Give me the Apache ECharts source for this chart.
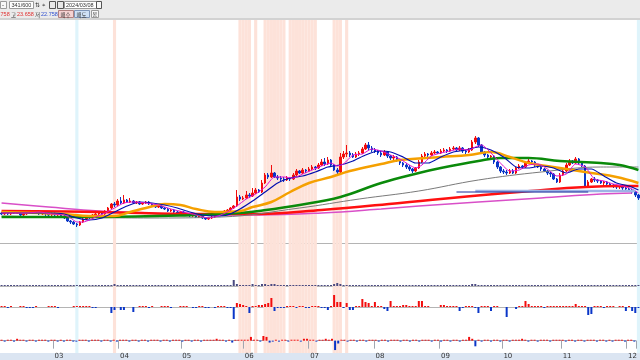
<!DOCTYPE html>
<html><head><meta charset="utf-8">
<script src="https://cdn.jsdelivr.net/npm/echarts@6/dist/echarts.min.js"></script>
<style>html,body{margin:0;padding:0;background:#fff}#c{width:640px;height:360px}</style>
</head><body><div id="c"></div>
<script>
// ---- categories (trading days grouped by month) ----
const monthLabels = ['02','03','04','05','06','07','08','09','10','11','12'];
const monthDays   = [17,21,20,20,21,21,21,20,19,21,3];

// ---- candles [open, close, low, high] ----
const ohlc = [
[130,129,128,131],[129,130,128,131],[130,129,128,130],[129,131,128,132],[131,130,129,132],[130,130,129,131],[130,128,127,131],[128,129,127,130],[129,131,128,132],[131,130,129,132],
[130,132,129,133],[132,131,130,133],[131,129,128,132],[129,130,128,131],[130,129,127,131],[129,128,127,130],[128,130,127,131],
[130,128,127,131],[128,129,127,130],[129,127,126,130],[127,125,124,128],[125,122,121,126],[122,121,119,123],[121,119,118,122],[119,118,116,120],[118,121,117,122],[121,124,120,125],
[124,126,123,127],[126,125,124,128],[125,128,124,129],[128,129,127,130],[129,130,128,131],[130,129,128,131],[129,132,128,133],[132,135,131,136],[135,139,134,140],[139,138,136,141],[138,142,137,144],
[142,140,139,146],[140,143,139,148],[143,141,140,144],[141,142,140,145],[142,140,139,143],[140,141,139,142],[141,139,138,142],[139,140,138,141],[140,141,139,142],[141,139,138,142],
[139,138,137,140],[138,136,135,139],[136,137,135,138],[137,135,134,138],[135,134,133,136],[134,132,131,135],[132,133,131,134],[133,131,130,134],[131,130,129,132],[130,131,129,132],
[131,129,128,132],[129,128,127,130],[128,127,126,129],[127,128,126,129],[128,126,125,129],[126,127,125,128],[127,125,124,128],[125,124,123,126],[124,125,123,126],[125,126,124,127],
[126,129,125,130],[129,131,128,132],[131,130,129,132],[130,132,129,133],[132,133,131,134],[133,135,132,136],[135,137,134,138],[137,146,136,153],[146,144,142,148],[144,145,143,147],
[145,148,144,152],[148,147,145,150],[147,150,146,155],[150,153,149,155],[153,151,150,154],[151,160,150,163],[160,168,159,170],[168,166,164,170],[166,170,165,178],[170,166,165,171],
[166,165,163,168],[165,164,162,167],[164,163,161,166],[163,165,162,167],[165,164,162,166],[164,168,163,170],[168,172,167,174],[172,170,169,173],[170,173,169,175],[173,172,170,174],[172,174,171,176],
[174,176,173,178],[176,175,173,177],[175,178,174,180],[178,181,177,184],[181,179,177,185],[179,183,178,186],[183,178,176,184],[178,173,172,179],[173,171,169,175],[171,186,170,190],
[186,189,184,192],[189,190,186,198],[190,188,186,192],[188,186,185,190],[186,189,185,191],[189,190,187,192],[190,194,189,196],[194,198,193,200],[198,195,193,201],[195,193,191,197],[193,192,190,195],
[192,190,188,193],[190,188,186,192],[188,191,187,193],[191,187,185,192],[187,185,183,188],[185,186,183,188],[186,183,181,187],[183,180,178,184],[180,178,176,181],[178,176,174,180],
[176,174,172,178],[174,172,170,175],[172,175,171,176],[175,181,174,183],[181,187,180,189],[187,189,186,191],[189,188,186,190],[188,190,187,192],[190,191,189,193],[191,190,189,192],[190,192,189,194],
[192,193,191,195],[193,192,190,194],[192,194,191,196],[194,195,193,197],[195,193,192,196],[193,195,192,197],[195,192,190,196],[192,191,189,193],[191,193,190,195],[193,201,192,203],
[201,205,199,207],[205,198,196,206],[198,191,190,199],[191,188,186,192],[188,186,184,189],[186,187,184,188],[187,181,179,188],[181,176,174,182],[176,172,170,177],[172,171,169,174],
[171,170,168,173],[170,172,169,174],[172,170,169,174],[170,175,169,176],[175,177,174,179],[177,176,174,178],[176,180,175,182],[180,182,179,184],[182,181,179,183],[181,178,176,182],
[178,176,175,179],[176,174,172,177],[174,172,171,175],[172,170,168,173],[170,169,166,171],[169,164,163,170],[164,161,160,165],[161,168,160,170],[168,172,167,173],
[172,178,171,180],[178,182,177,184],[182,180,179,183],[180,184,179,186],[184,180,178,185],[180,177,176,181],[177,157,155,178],[157,161,156,163],[161,164,160,165],[164,163,161,166],
[163,162,160,164],[162,160,159,163],[160,161,158,162],[161,159,157,162],[159,158,156,160],[158,157,155,159],[157,156,154,158],[156,157,154,158],[157,155,153,158],[155,154,152,156],[154,153,151,155],
[153,151,149,154],[151,148,146,152],[148,145,143,149]
];

// ---- moving-average lines: [dayIndex, price] ----
const ma5 = [[0,130],[4,130],[8,130],[12,131],[16,129],[20,128],[22,125],[24,121],[26,121],[28,123],[30,126],[33,130],[36,135],[39,140],[42,141],[46,140],[50,138],[54,134],[58,131],[62,128],[66,125],[69,127],[72,131],[75,137],[78,144],[81,149],[84,156],[87,166],[90,166],[93,165],[96,169],[99,173],[102,177],[105,180],[107,177],[109,179],[112,188],[115,189],[118,194],[121,192],[124,188],[127,184],[130,178],[132,175],[134,178],[137,187],[140,190],[143,192],[146,194],[149,193],[151,196],[153,198],[156,190],[159,180],[162,172],[165,173],[168,178],[171,179],[174,174],[177,167],[180,169],[183,179],[186,176],[189,164],[192,162],[195,159],[198,157],[201,154],[203,150]];
const ma10 = [[0,130],[10,130],[15,130],[20,129],[24,125],[28,123],[32,125],[36,131],[40,137],[44,141],[48,140],[52,138],[56,135],[60,131],[64,128],[68,127],[72,128],[76,134],[80,142],[84,151],[88,160],[92,165],[96,167],[100,171],[104,176],[108,178],[112,182],[116,188],[120,192],[124,191],[128,186],[132,180],[136,180],[140,186],[144,191],[148,193],[152,196],[156,193],[160,186],[164,176],[168,175],[172,177],[176,175],[180,170],[184,174],[188,174],[192,167],[196,160],[200,157],[203,153]];
const ma20 = [[0,131],[12,130],[20,129],[28,127],[36,127],[41,131],[46,135],[52,139],[57,138],[62,134],[68,131],[76,132],[80,136],[86,141],[92,151],[98,160],[105,166],[111,172],[121,179],[127,183],[140,186],[149,188],[156,191],[162,186],[168,180],[178,175],[188,170],[196,166],[203,160]];
const ma60 = [[0,126],[31,126],[63,128],[76,130],[82,132],[95,138],[108,146],[121,160],[133,170],[140,175],[152,182],[159,185],[168,185],[178,182],[191,180],[197,178],[203,173]];
const ma120 = [[0,127],[47,125],[70,126],[95,135],[114,144],[133,152],[152,163],[172,171],[191,176],[203,176]];
const maRed = [[0,132],[31,131],[63,129],[82,129],[102,133],[127,140],[165,151],[197,157],[203,157]];
const maPink = [[0,140],[15,136],[31,132],[47,130],[63,128],[82,128],[102,130],[121,134],[133,137],[152,141],[172,145],[191,149],[201,150]];
const trendDark = [[145,151],[187,151]];
const trendLight = [[151,152],[202,152]];

// ---- shaded days ----
const salmonDays = [36,76,77,78,79,81,84,85,86,87,88,89,90,92,93,94,95,96,97,98,99,100,106,107,108,110];
const cyanDays = [24,203];

// ---- lower panels ----
const panel2 = [
1,1,1,1,1,1,1,1,1,1,1,1,1,1,1,1,1,1,1,1,
1,1,1,1,1,1,1,1,1,1,1,1,1,1,1,1,2,1,1,1,
1,1,1,1,1,1,1,1,1,1,1,1,1,1,1,1,1,1,1,1,
1,1,1,1,1,1,1,1,1,1,1,1,1,1,6,2,1,1,1,1,
2,1,1,2,2,1,2,2,1,1,1,1,1,1,1,1,1,1,1,1,
1,1,1,1,1,1,2,3,2,1,1,1,1,1,1,1,1,1,1,1,
1,1,1,1,1,1,1,1,1,1,1,1,1,1,1,1,1,1,1,1,
1,1,1,1,1,1,1,1,1,1,2,2,1,1,1,1,1,1,1,1,
1,1,1,1,1,1,1,1,1,1,1,1,1,1,1,1,1,1,1,1,
1,1,1,1,1,1,1,1,1,1,1,1,1,1,1,1,1,1,1,1,
1,1,1,1];
const panel3 = [
1,1,-1,1,0,0,1,1,-1,-1,-1,1,0,0,0,1,1,1,-1,0,
0,0,0,1,1,1,1,1,1,-1,-1,0,0,0,0,-6,-3,0,-3,-3,
0,0,-5,0,1,1,1,-1,1,0,0,1,1,1,-1,0,0,1,1,1,
0,-1,-1,1,1,-1,-1,0,-1,1,1,1,-1,-1,-12,4,3,2,1,-6,
1,1,2,2,3,4,9,-4,-1,-1,-1,1,1,1,-1,1,1,-1,-1,1,
1,1,-1,-1,-3,1,12,5,5,-1,4,-3,-3,1,1,8,5,4,1,5,
1,1,-2,-4,6,1,1,1,2,2,1,1,1,6,6,1,1,0,0,0,
2,2,1,1,1,1,-4,-1,1,1,1,-1,-6,1,1,1,-4,1,1,0,
0,-10,0,0,-2,1,1,6,3,1,1,1,1,-1,1,1,1,1,1,1,
1,1,1,3,1,1,1,-8,-7,1,1,1,-1,1,1,1,0,1,1,-4,
1,-4,-6,-1];
const panel4 = [
1,-1,1,1,-1,2,1,1,-1,1,1,-1,1,1,1,-1,1,1,-1,1,
-1,1,1,-1,-1,1,1,1,-1,1,1,1,-1,1,1,-1,1,-1,1,1,
1,-1,1,1,-1,1,1,-1,1,1,1,-1,1,1,-1,1,1,1,-1,1,
1,-1,1,1,-1,1,1,1,1,2,1,1,-1,1,-2,1,1,1,1,1,
4,1,1,-1,5,4,-2,-1,1,-1,1,1,-1,1,1,1,-1,2,2,1,
1,-1,1,1,2,1,2,-10,-3,1,1,-1,1,1,-1,1,1,-1,1,1,
1,-1,1,1,-1,1,1,1,-1,1,1,-1,1,1,-1,1,1,1,-1,1,
1,-1,1,1,-1,1,1,-1,1,1,4,2,-6,1,-1,1,1,-1,1,1,
-1,1,1,-1,1,1,1,2,1,-1,1,1,-1,1,1,1,-1,1,1,1,
1,-1,1,1,-1,1,1,-1,1,1,1,-1,1,1,-1,1,-1,1,1,1,
-1,1,1,-1];

// ---- build tables ----
const categories = []; const monthStart = new Set();
monthLabels.forEach((m, k) => {
  for (let d = 1; d <= monthDays[k]; d++) {
    if (d === 1 && categories.length > 0) monthStart.add(categories.length);
    categories.push(m + '-' + d);
  }
});
const bandData = categories.map((c, i) =>
  salmonDays.includes(i) ? {value: 1, itemStyle: {color: '#fde2d9'}} :
  cyanDays.includes(i) ? {value: 1, itemStyle: {color: '#dff4fb'}} : '-');

const RED = '#f20d0d', BLUE = '#0a36c8', SEP = '#b4b4b4';
const signColor = p => (p.value >= 0 ? RED : BLUE);

function xAx(gi, opts) {
  return Object.assign({
    type: 'category', gridIndex: gi, data: categories, boundaryGap: true,
    axisLine: {show: true, lineStyle: {color: SEP, width: 1}},
    axisTick: {show: false}, axisLabel: {show: false}, splitLine: {show: false}
  }, opts || {});
}
function yAx(gi, min, max) {
  return {type: 'value', gridIndex: gi, min: min, max: max, show: false, splitLine: {show: false}};
}
function line(data, color, width, smooth, z) {
  return {type: 'line', xAxisIndex: 1, yAxisIndex: 1, data: data, showSymbol: false, smooth: smooth,
    lineStyle: {color: color, width: width}, z: z || 4, silent: true};
}

const NUMF = 'Liberation Sans, Arial, sans-serif';
const KRF = 'Noto Sans CJK KR, sans-serif';
const tb = (x, y, w, h, fill, stroke) => ({type: 'rect', shape: {x: x, y: y, width: w, height: h},
  style: {fill: fill, stroke: stroke || '#9a9a9a', lineWidth: 1}, z: 10, silent: true});
const tt = (x, y, s, color, size, font) => ({type: 'text', x: x, y: y, silent: true,
  style: {text: s, fill: color || '#222', fontSize: size || 5.5, fontFamily: font || NUMF, verticalAlign: 'middle', align: 'left'}, z: 11});

const chart = echarts.init(document.getElementById('c'), null, {renderer: 'canvas'});
chart.setOption({
  animation: false,
  backgroundColor: '#ffffff',
  grid: [
    {left: 0, right: 0, top: 20, height: 333},
    {left: 0, right: 0, top: 20, height: 223},
    {left: 0, right: 0, top: 243, height: 43},
    {left: 0, right: 0, top: 286, height: 34},
    {left: 0, right: 0, top: 320, height: 33}
  ],
  xAxis: [
    xAx(0, {show: false}),
    xAx(1),
    xAx(2),
    xAx(3),
    xAx(4, {
      axisLine: {show: true, lineStyle: {color: '#a8aeb8', width: 1}},
      axisTick: {show: true, length: 8, interval: (i) => monthStart.has(i), lineStyle: {color: '#a0a6b0'}},
      axisLabel: {show: true, interval: (i) => monthStart.has(i), formatter: v => v.split('-')[0],
        align: 'left', margin: 2, fontSize: 7, color: '#333', fontFamily: 'DejaVu Sans'}
    })
  ],
  yAxis: [yAx(0, 0, 1), yAx(1, 100, 323), yAx(2, 0, 43), yAx(3, -13, 21), yAx(4, -11, 22)],
  graphic: [
    {type: 'rect', shape: {x: 0, y: 353, width: 640, height: 7}, style: {fill: '#dbe5f2'}, z: -1, silent: true},
    {type: 'rect', shape: {x: 0, y: 0, width: 640, height: 19}, style: {fill: '#ebebeb'}, z: 9, silent: true},
    {type: 'rect', shape: {x: 0, y: 18, width: 640, height: 2}, style: {fill: '#d2d2d2'}, z: 9, silent: true},
    tb(0.5, 1.5, 6, 7, '#f7f7f7'), tt(2, 5, '-', '#333', 6),
    tb(9.5, 1.5, 24, 7, '#ffffff'), tt(11.5, 5.2, '341/600', '#333', 5.5),
    tt(35, 5.2, '⇅', '#333', 6, 'DejaVu Sans'), tt(42, 5.2, '⌖', '#333', 6, 'DejaVu Sans'),
    tb(49.5, 1.5, 6, 7, '#e8e8e8', '#555'), tb(57.5, 1.5, 6, 7, '#e8e8e8', '#555'),
    tb(64.5, 1.5, 32, 7, '#ffffff'), tt(66, 5.2, '2024/03/08', '#333', 5.5),
    tb(96.5, 1.5, 5, 7, '#f7f7f7', '#555'),
    tt(-1, 14.5, '.758', '#e03030', 5.5),
    tt(11, 14.5, '고', '#333', 5.5, KRF), tt(17, 14.5, '23.658', '#e03030', 5.5),
    tt(35, 14.5, '저', '#333', 5.5, KRF), tt(41, 14.5, '22.758', '#3050d0', 5.5),
    tb(58.5, 10.5, 15, 7, '#f6d2d2', '#b08080'), tt(60.5, 14.5, '매수', '#333', 5.5, KRF),
    tb(74.5, 10.5, 15, 7, '#cfe0f6', '#7f95b8'), tt(76.5, 14.5, '매도', '#333', 5.5, KRF),
    tb(91.5, 10.5, 7, 7, '#f7f7f7'), tt(92.5, 14.5, '몸', '#333', 5, KRF)
  ],
  series: [
    {type: 'bar', xAxisIndex: 0, yAxisIndex: 0, data: bandData, barCategoryGap: '0%', barWidth: '100%', z: 0, silent: true},
    {type: 'candlestick', xAxisIndex: 1, yAxisIndex: 1, data: ohlc, barWidth: 2,
      itemStyle: {color: RED, color0: BLUE, borderColor: RED, borderColor0: BLUE, borderWidth: 1}, z: 3},
    line(maPink, '#d94fc8', 1.5, 0.4, 4),
    line(maRed, '#ff1010', 2.5, 0.4, 4),
    line(ma120, '#7a7a7a', 1, 0.4, 4),
    line(ma60, '#0a8a0a', 2.5, 0.4, 4),
    line(ma20, '#f5a000', 2.5, 0.4, 4),
    line(ma10, '#0010b0', 1.2, 0.2, 5),
    line(ma5, '#e010d0', 1, 0.2, 5),
    line(trendLight, '#9db3e6', 2.5, false, 5),
    line(trendDark, '#1a2a9a', 1, false, 6),
    {type: 'bar', xAxisIndex: 2, yAxisIndex: 2, data: panel2, barWidth: 2, itemStyle: {color: '#4a4a80'}, z: 3},
    {type: 'bar', xAxisIndex: 3, yAxisIndex: 3, data: panel3, barWidth: 2, itemStyle: {color: signColor}, z: 3},
    {type: 'bar', xAxisIndex: 4, yAxisIndex: 4, data: panel4, barWidth: 2, itemStyle: {color: signColor}, z: 3}
  ]
});
</script></body></html>
